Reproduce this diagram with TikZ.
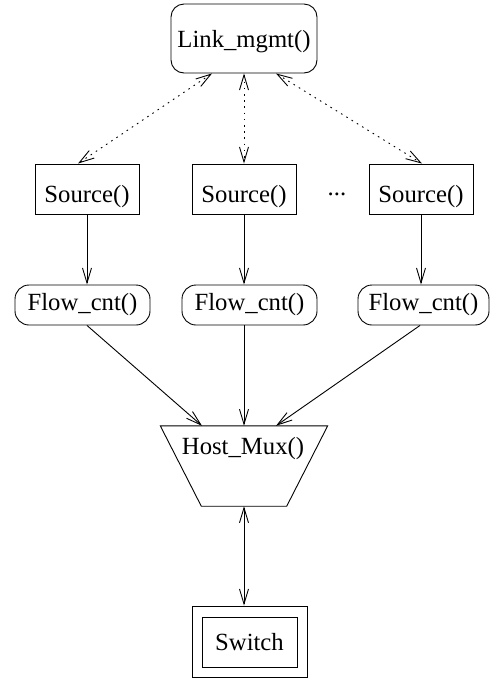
\documentclass[tikz,border=0pt]{standalone}
\usepackage{fontspec}
\setmainfont{Liberation Serif}
\usetikzlibrary{arrows.meta}
\begin{document}
\begin{tikzpicture}[x=1pt,y=-1pt,
  every node/.style={font=\fontsize{24.7}{29}\selectfont, inner sep=0pt},
  lw/.style={line width=0.9pt},
  box/.style={draw, lw, rectangle, minimum width=104pt, minimum height=50pt, text height=33pt, text depth=5.4pt},
  rbox/.style={draw, lw, rectangle, rounded corners=14pt, minimum height=40pt},
  tip/.style={-{Straight Barb[length=15pt,width=9pt,line width=0.9pt]}},
  bitip/.style={{Straight Barb[length=15pt,width=9pt,line width=0.9pt]}-{Straight Barb[length=15pt,width=9pt,line width=0.9pt]}},
  dots/.style={dash pattern=on 1.6pt off 4.6pt}
]
\useasboundingbox (0,0) rectangle (490,681);

% top
\node[draw, lw, rounded corners=13pt, minimum width=146pt, minimum height=69pt, text height=23pt, text depth=5.4pt] (link) at (244,38.5) {Link\_mgmt()};

% sources
\node[box] (s1) at (87,189) {Source()};
\node[box] (s2) at (244,189) {Source()};
\node[box] (s3) at (421,189) {Source()};
\node[anchor=base] (ell) at (337,195) {...};

% flow counters
\node[rbox, minimum width=135pt] (f1) at (82.5,305) {Flow\_cnt()};
\node[rbox, minimum width=135pt] (f2) at (249.5,305) {Flow\_cnt()};
\node[rbox, minimum width=131pt] (f3) at (423.5,305) {Flow\_cnt()};

% host mux
\node[minimum width=167pt, minimum height=80pt] (hm) at (244,466) {};
\draw[lw] (hm.north west) -- (hm.north east) -- ([xshift=-41pt]hm.south east) -- ([xshift=41pt]hm.south west) -- cycle;
\node (hmlabel) at (243,449) {Host\_Mux()};

% switch
\node[draw, lw, minimum width=115pt, minimum height=71pt] (swo) at (249.5,641.5) {};
\node[draw, lw, minimum width=95pt, minimum height=50pt] (sw) at (249.5,642) {Switch};

% dotted links
\draw[lw, dots, bitip] ([xshift=-32pt]link.south) -- ([xshift=-9pt]s1.north);
\draw[lw, dots, bitip] (link.south) -- (s2.north);
\draw[lw, dots, bitip] ([xshift=32pt]link.south) -- ([xshift=1pt]s3.north);

% source -> flow
\draw[lw, tip] (s1.south) -- (s1.south |- f1.north);
\draw[lw, tip] (s2.south) -- (s2.south |- f2.north);
\draw[lw, tip] (s3.south) -- (s3.south |- f3.north);

% flow -> mux
\draw[lw, tip] (s1.south |- f1.south) -- ([xshift=-42pt]hm.north);
\draw[lw, tip] (s2.south |- f2.south) -- (hm.north);
\draw[lw, tip] ([xshift=-3.5pt]f3.south) -- ([xshift=32pt]hm.north);

% mux <-> switch
\draw[lw, bitip] (hm.south) -- (hm.south |- swo.north);
\end{tikzpicture}
\end{document}
